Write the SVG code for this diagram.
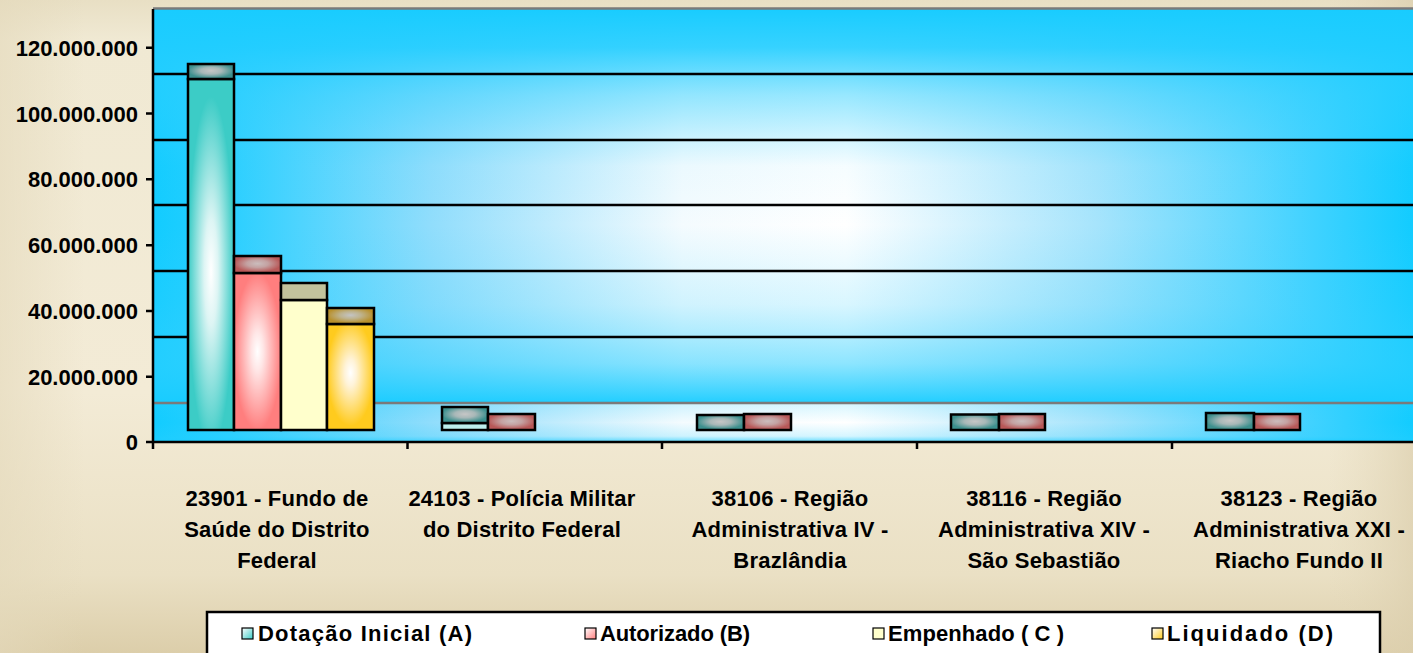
<svg xmlns="http://www.w3.org/2000/svg" width="1413" height="653" viewBox="0 0 1413 653">
<defs>
<style>
text{font-family:"Liberation Sans",Arial,sans-serif;font-weight:bold;fill:#000}
.yl{font-size:22px;text-anchor:end}
.xl{font-size:22px;text-anchor:middle;letter-spacing:0.2px}
.lg{font-size:22px}
.grid{stroke:#000;stroke-width:2.5}
.bar{stroke:#000;stroke-width:2.5}
.ax{stroke:#000;stroke-width:2.5;fill:none}
.sw{stroke:#000;stroke-width:1.2}
</style>
<linearGradient id="bgV" x1="0" y1="0" x2="0" y2="1">
<stop offset="0" stop-color="#E8DFC4"/>
<stop offset="0.06" stop-color="#F0E9D3"/>
<stop offset="0.6" stop-color="#F3EBD6"/>
<stop offset="0.88" stop-color="#EAE0C4"/>
<stop offset="1" stop-color="#DCCEAA"/>
</linearGradient>
<linearGradient id="bgH" x1="0" y1="0" x2="1" y2="0">
<stop offset="0" stop-color="#E4D9BB" stop-opacity="0.6"/>
<stop offset="0.06" stop-color="#E4D9BB" stop-opacity="0"/>
<stop offset="0.94" stop-color="#E4D9BB" stop-opacity="0"/>
<stop offset="1" stop-color="#DCCFAE" stop-opacity="0.7"/>
</linearGradient>
<linearGradient id="plotH" gradientUnits="userSpaceOnUse" x1="153" y1="0" x2="1413" y2="0">
<stop offset="0" stop-color="#12CCFF"/>
<stop offset="0.06" stop-color="#2ACFFF"/>
<stop offset="0.22" stop-color="#90DDFC"/>
<stop offset="0.42" stop-color="#F4FBFE"/>
<stop offset="0.55" stop-color="#FFFFFF"/>
<stop offset="0.75" stop-color="#A6E4FC"/>
<stop offset="0.92" stop-color="#40D2FF"/>
<stop offset="1" stop-color="#12CCFF"/>
</linearGradient>
<linearGradient id="plotV" gradientUnits="userSpaceOnUse" x1="0" y1="8" x2="0" y2="403">
<stop offset="0" stop-color="#18CCFF" stop-opacity="1"/>
<stop offset="0.1" stop-color="#20CDFF" stop-opacity="0.9"/>
<stop offset="0.22" stop-color="#30D0FF" stop-opacity="0.5"/>
<stop offset="0.4" stop-color="#40D2FF" stop-opacity="0.05"/>
<stop offset="0.55" stop-color="#40D2FF" stop-opacity="0"/>
<stop offset="0.75" stop-color="#40D2FF" stop-opacity="0.2"/>
<stop offset="0.9" stop-color="#30D0FF" stop-opacity="0.55"/>
<stop offset="1" stop-color="#18CCFF" stop-opacity="0.95"/>
</linearGradient>
<linearGradient id="floorV" gradientUnits="userSpaceOnUse" x1="0" y1="403" x2="0" y2="442">
<stop offset="0" stop-color="#30D0FF" stop-opacity="0.2"/>
<stop offset="0.5" stop-color="#30D0FF" stop-opacity="0"/>
<stop offset="0.85" stop-color="#30D0FF" stop-opacity="0.2"/>
<stop offset="1" stop-color="#18CCFF" stop-opacity="0.7"/>
</linearGradient>
<radialGradient id="tealF" cx="0.5" cy="0.55" r="0.5">
<stop offset="0" stop-color="#FFFFFF"/>
<stop offset="0.3" stop-color="#DDF5F4"/>
<stop offset="1" stop-color="#3CCCC6"/>
</radialGradient>
<radialGradient id="pinkF" cx="0.5" cy="0.5" r="0.5">
<stop offset="0" stop-color="#FFFFFF"/>
<stop offset="0.25" stop-color="#FFE6E6"/>
<stop offset="1" stop-color="#FF7E7E"/>
</radialGradient>
<radialGradient id="orgF" cx="0.5" cy="0.46" r="0.5">
<stop offset="0" stop-color="#FFFFFF"/>
<stop offset="0.25" stop-color="#FFF3D8"/>
<stop offset="1" stop-color="#FFCB1E"/>
</radialGradient>
<radialGradient id="tealC" cx="0.5" cy="0.45" r="0.5">
<stop offset="0" stop-color="#C6C6C6"/>
<stop offset="0.45" stop-color="#A8B8B8"/>
<stop offset="1" stop-color="#3D908E"/>
</radialGradient>
<radialGradient id="pinkC" cx="0.5" cy="0.45" r="0.5">
<stop offset="0" stop-color="#CBBDBD"/>
<stop offset="0.45" stop-color="#C4A2A2"/>
<stop offset="1" stop-color="#B85858"/>
</radialGradient>
<radialGradient id="orgC" cx="0.5" cy="0.45" r="0.5">
<stop offset="0" stop-color="#C4C4C4"/>
<stop offset="0.45" stop-color="#BEB38E"/>
<stop offset="1" stop-color="#B8902C"/>
</radialGradient>
<linearGradient id="tealS" x1="0" y1="0" x2="1" y2="1">
<stop offset="0" stop-color="#FFFFFF"/>
<stop offset="1" stop-color="#3CCCC6"/>
</linearGradient>
<linearGradient id="pinkS" x1="0" y1="0" x2="1" y2="1">
<stop offset="0" stop-color="#FFFFFF"/>
<stop offset="1" stop-color="#FF7E7E"/>
</linearGradient>
<linearGradient id="orgS" x1="0" y1="0" x2="1" y2="1">
<stop offset="0" stop-color="#FFFFFF"/>
<stop offset="1" stop-color="#FFCB1E"/>
</linearGradient>
</defs>

<g id="background">
<rect x="0" y="0" width="1413" height="653" fill="url(#bgV)"/>
<rect x="0" y="0" width="1413" height="653" fill="url(#bgH)"/>
</g>

<g id="plot-area">
<rect x="153" y="8" width="1260" height="395" fill="url(#plotH)"/>
<rect x="153" y="8" width="1260" height="395" fill="url(#plotV)"/>
<rect x="153" y="403" width="1260" height="39" fill="url(#plotH)"/>
<rect x="153" y="403" width="1260" height="39" fill="url(#floorV)"/>
<line x1="153" y1="8.5" x2="1413" y2="8.5" stroke="#7A7A7A" stroke-width="2.5"/>
</g>

<g id="gridlines">
<line class="grid" x1="153" y1="74" x2="1413" y2="74"/>
<line class="grid" x1="153" y1="140" x2="1413" y2="140"/>
<line class="grid" x1="153" y1="205" x2="1413" y2="205"/>
<line class="grid" x1="153" y1="271" x2="1413" y2="271"/>
<line class="grid" x1="153" y1="337" x2="1413" y2="337"/>
<line x1="153" y1="403" x2="1413" y2="403" stroke="#7A7A7A" stroke-width="2.5"/>
</g>

<g id="axes">
<line class="ax" x1="153" y1="9" x2="153" y2="449"/>
<line class="ax" x1="146" y1="442" x2="1413" y2="442"/>
<path class="ax" d="M146 47.7H153M146 113.5H153M146 179.3H153M146 245.2H153M146 311H153M146 376.8H153"/>
<path class="ax" d="M407.5 442V449M662 442V449M917 442V449M1172 442V449"/>
</g>

<g id="y-labels">
<text class="yl" x="138" y="55.7">120.000.000</text>
<text class="yl" x="138" y="121.5">100.000.000</text>
<text class="yl" x="138" y="187.3">80.000.000</text>
<text class="yl" x="138" y="253.2">60.000.000</text>
<text class="yl" x="138" y="319">40.000.000</text>
<text class="yl" x="138" y="384.8">20.000.000</text>
<text class="yl" x="138" y="450">0</text>
</g>

<g id="series-bars">
<g id="g1-23901">
<rect class="bar" x="188" y="79" width="46" height="351" fill="url(#tealF)"/>
<rect class="bar" x="188" y="64" width="46" height="15" fill="url(#tealC)"/>
<rect class="bar" x="234" y="273" width="47" height="157" fill="url(#pinkF)"/>
<rect class="bar" x="234" y="256" width="47" height="17" fill="url(#pinkC)"/>
<rect class="bar" x="281" y="300" width="46" height="130" fill="#FFFFCC"/>
<rect class="bar" x="281" y="283" width="46" height="17" fill="#C2C29C"/>
<rect class="bar" x="327" y="324" width="47" height="106" fill="url(#orgF)"/>
<rect class="bar" x="327" y="308" width="47" height="16" fill="url(#orgC)"/>
</g>
<g id="g2-24103">
<rect class="bar" x="442" y="423" width="46" height="7" fill="#BDEEEC"/>
<rect class="bar" x="442" y="407" width="46" height="16" fill="url(#tealC)"/>
<rect class="bar" x="488" y="414" width="47" height="16" fill="url(#pinkC)"/>
</g>
<g id="g3-38106">
<rect class="bar" x="697" y="415" width="47" height="15" fill="url(#tealC)"/>
<rect class="bar" x="744" y="414" width="47" height="16" fill="url(#pinkC)"/>
</g>
<g id="g4-38116">
<rect class="bar" x="951" y="414.5" width="48" height="15.5" fill="url(#tealC)"/>
<rect class="bar" x="999" y="414" width="46" height="16" fill="url(#pinkC)"/>
</g>
<g id="g5-38123">
<rect class="bar" x="1206" y="413" width="48" height="17" fill="url(#tealC)"/>
<rect class="bar" x="1254" y="414" width="46" height="16" fill="url(#pinkC)"/>
</g>
</g>

<g id="x-labels">
<text class="xl" x="277" y="506">23901 - Fundo de</text>
<text class="xl" x="277" y="537">Saúde do Distrito</text>
<text class="xl" x="277" y="568">Federal</text>
<text class="xl" x="522" y="506">24103 - Polícia Militar</text>
<text class="xl" x="522" y="537">do Distrito Federal</text>
<text class="xl" x="790" y="506">38106 - Região</text>
<text class="xl" x="790" y="537">Administrativa IV -</text>
<text class="xl" x="790" y="568">Brazlândia</text>
<text class="xl" x="1044" y="506">38116 - Região</text>
<text class="xl" x="1044" y="537">Administrativa XIV -</text>
<text class="xl" x="1044" y="568">São Sebastião</text>
<text class="xl" x="1299" y="506">38123 - Região</text>
<text class="xl" x="1299" y="537">Administrativa XXI -</text>
<text class="xl" x="1299" y="568">Riacho Fundo II</text>
</g>

<g id="legend">
<rect x="207" y="612" width="1173" height="46" fill="#FFFFFF" stroke="#000" stroke-width="2.5"/>
<g id="legend-a">
<rect class="sw" x="242" y="628" width="11" height="11" fill="url(#tealS)"/>
<text class="lg" x="258" y="641" textLength="214" lengthAdjust="spacing">Dotação Inicial (A)</text>
</g>
<g id="legend-b">
<rect class="sw" x="585" y="628" width="11" height="11" fill="url(#pinkS)"/>
<text class="lg" x="600" y="641" textLength="150" lengthAdjust="spacing">Autorizado (B)</text>
</g>
<g id="legend-c">
<rect class="sw" x="873" y="628" width="11" height="11" fill="#FFFFCC"/>
<text class="lg" x="888" y="641" textLength="176" lengthAdjust="spacing">Empenhado ( C )</text>
</g>
<g id="legend-d">
<rect class="sw" x="1152" y="628" width="11" height="11" fill="url(#orgS)"/>
<text class="lg" x="1167" y="641" textLength="166" lengthAdjust="spacing">Liquidado (D)</text>
</g>
</g>
</svg>
